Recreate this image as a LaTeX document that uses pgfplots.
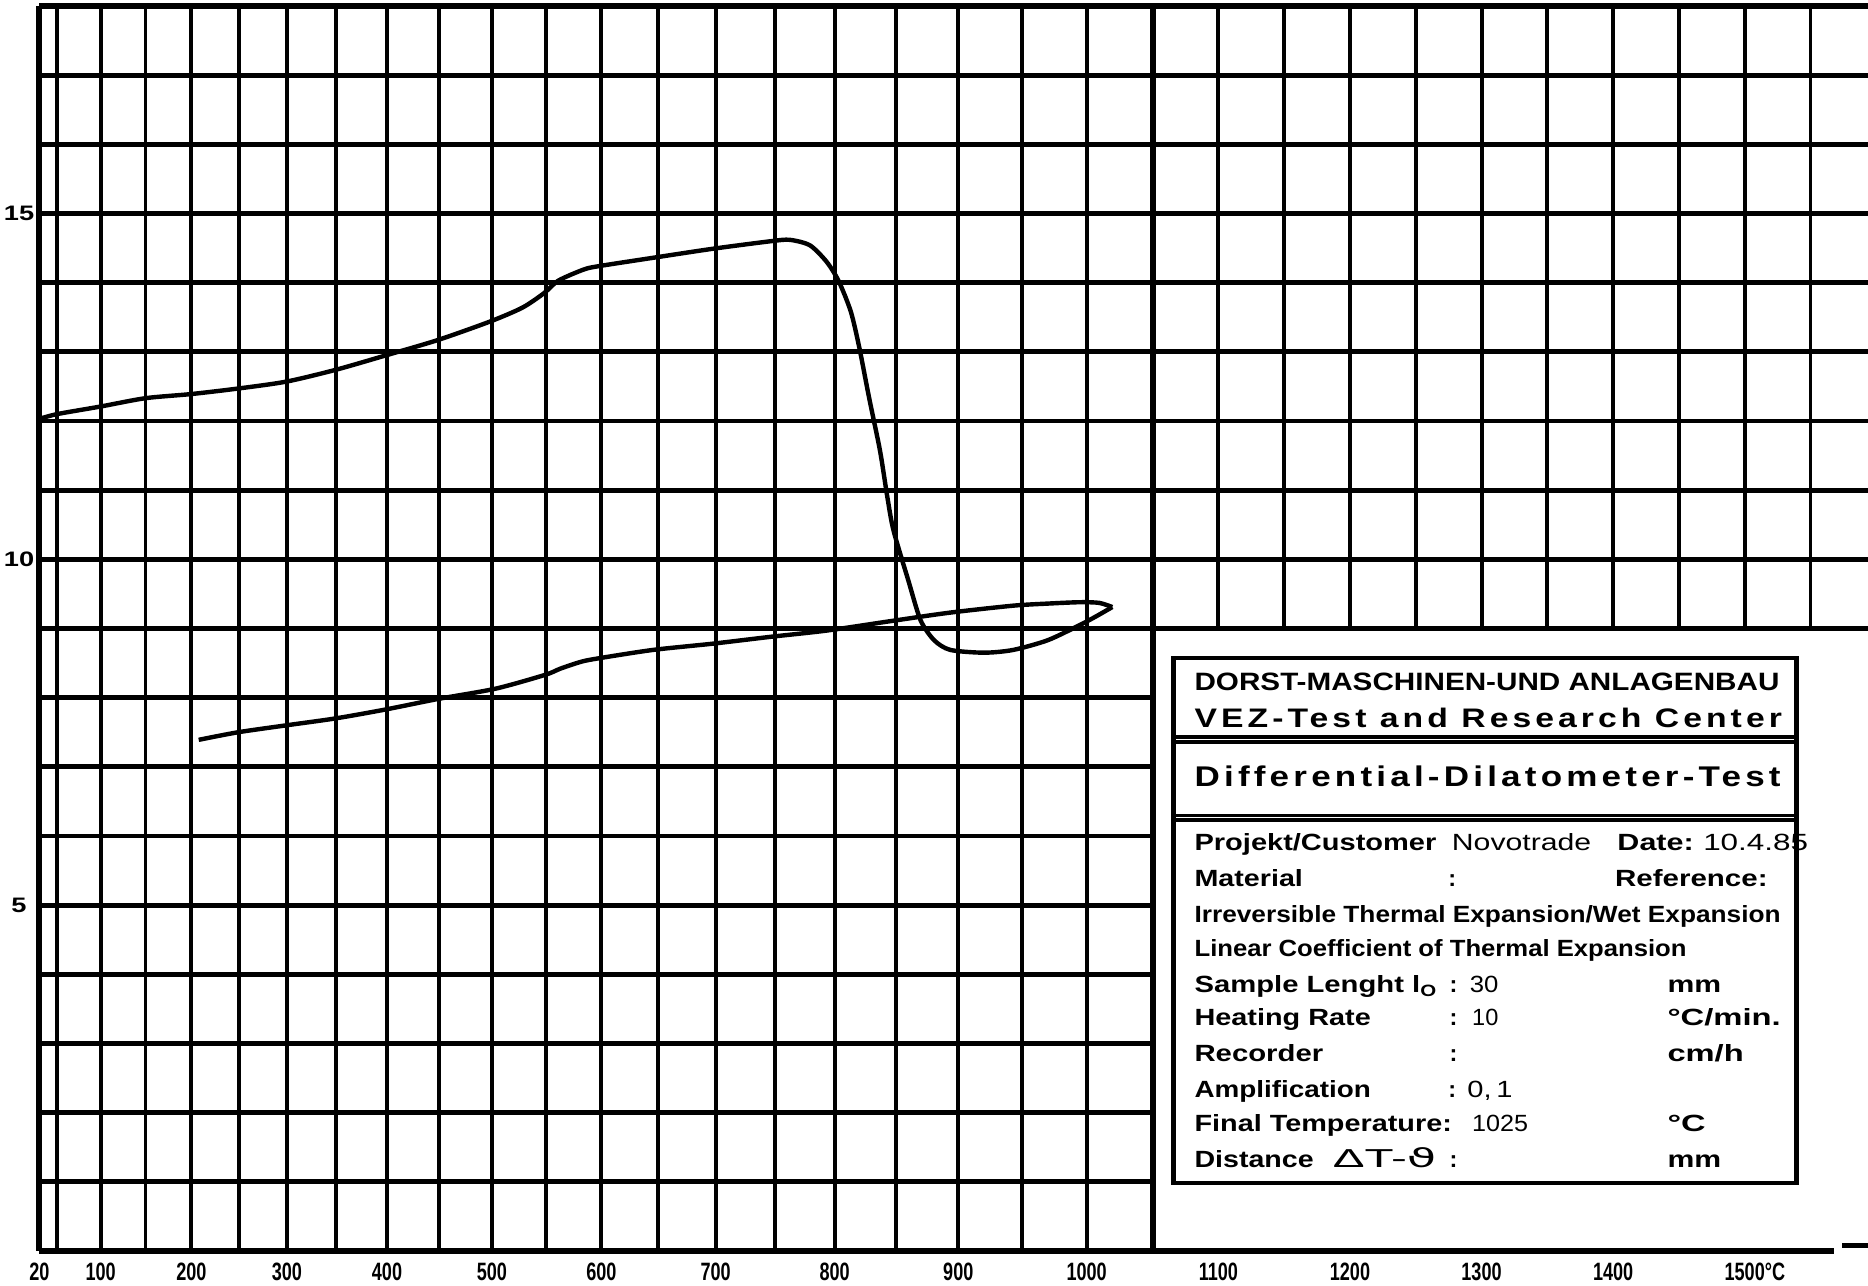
\documentclass[border=0pt]{standalone}
\usepackage{pgfplots}
\usepackage{pgfplotstable}
\pgfplotsset{compat=1.18}
\usepackage{graphicx}
\usepackage{fontspec}
\setmainfont{Liberation Sans}
\newfontfamily\dejavu{DejaVu Sans}
\newfontfamily\spaced[LetterSpace=12]{Liberation Sans}

\newcommand{\bt}[4]{\node[anchor=base west,inner sep=0pt] at (#1mm,#2mm) {\resizebox{#3mm}{\height}{#4}};}
\newcommand{\nt}[3]{\node[anchor=base west,inner sep=0pt] at (#1mm,#2mm) {#3};}
\newcommand{\body}{\fontsize{5.6pt}{6pt}\selectfont}
\newcommand{\xl}[1]{\scalebox{0.72}[1]{#1}}
\newcommand{\yl}[1]{\scalebox{1.3}[1]{#1}}

% heating run (temperature in degC, expansion reading)
\pgfplotstableread{
T y
20 12.03
50 12.10
100 12.21
150 12.33
200 12.39
250 12.47
300 12.57
350 12.74
400 12.95
450 13.17
500 13.44
530 13.64
550 13.85
563 14.03
586 14.19
600 14.24
648 14.36
700 14.49
750 14.60
766 14.62
783 14.54
797 14.30
807 14.02
817 13.58
824 13.06
832 12.34
841 11.57
847 10.90
852 10.42
864 9.70
874 9.12
885 8.83
898 8.69
925 8.65
948 8.69
975 8.83
1000 9.05
1013 9.18
1025 9.31
}\heating

% cooling run
\pgfplotstableread{
T y
1025 9.31
1015 9.37
1000 9.38
975 9.36
948 9.33
898 9.23
851 9.11
797 8.97
750 8.88
700 8.78
648 8.69
600 8.57
584 8.52
565 8.42
551 8.33
505 8.13
450 7.98
400 7.83
350 7.70
300 7.60
250 7.50
208 7.39
}\cooling

\begin{document}
\begin{tikzpicture}
\begin{axis}[
  scale only axis, width=153.53mm, height=104.49mm,
  at={(0,0)}, anchor=south west,
  xmin=20, xmax=1594, ymin=0, ymax=18,
  x coord trafo/.code={\pgfmathparse{48+0.725*(max(min(#1,1050),50)-50)+0.000192*(max(min(#1,1050),50)-50)*(max(min(#1,1050),50)-50)+0.5*min(#1-50,0)+1.109*max(#1-1050,0)}},
  axis line style={draw=none},
  major tick length=0pt, tick style={draw=none},
  xtick={20,100,200,300,400,500,600,700,800,900,1000,1100,1200,1300,1400,1500},
  xticklabels={\xl{20},\xl{100},\xl{200},\xl{300},\xl{400},\xl{500},\xl{600},\xl{700},\xl{800},\xl{900},\xl{1000},\xl{1100},\xl{1200},\xl{1300},\xl{1400},\xl{1500}\rlap{\xl{°C}}},
  ytick={5,10,15}, yticklabels={\yl{5},\yl{10},\yl{15}},
  xticklabel style={font=\bfseries\fontsize{6pt}{7pt}\selectfont, anchor=center, yshift=-1.8mm},
  yticklabel style={font=\bfseries\fontsize{5pt}{6pt}\selectfont, anchor=center, xshift=-1.7mm},
  clip=false,
]
% grid of the recorder paper
\pgfplotsinvokeforeach{50,100,...,1000}{\draw[line width=0.33mm] (axis cs:#1,0) -- (axis cs:#1,18);}
\draw[line width=0.5mm] (axis cs:20,0) -- (axis cs:20,18);
\draw[line width=0.5mm] (axis cs:1050,0) -- (axis cs:1050,18);
\pgfplotsinvokeforeach{1100,1150,...,1550}{\draw[line width=0.33mm] (axis cs:#1,9) -- (axis cs:#1,18);}
\pgfplotsinvokeforeach{1,...,8}{\draw[line width=0.4mm] (axis cs:20,#1) -- (axis cs:1050,#1);}
\pgfplotsinvokeforeach{9,...,17}{\draw[line width=0.4mm] (axis cs:20,#1) -- (axis cs:1594,#1);}
\draw[line width=0.45mm] (axis cs:20,18) -- (axis cs:1594,18);
\draw[line width=0.45mm] (axis cs:20,0) -- (axis cs:1568,0);
\draw[line width=0.4mm] (axis cs:1574,0.08) -- (axis cs:1594,0.08);
% curves
\addplot[black, line width=0.37mm, smooth, tension=0.45] table[x=T,y=y] {\heating};
\addplot[black, line width=0.37mm, smooth, tension=0.45] table[x=T,y=y] {\cooling};
\end{axis}

% info box
\draw[line width=0.35mm, fill=white] (95.2mm,5.7mm) rectangle (147.5mm,49.8mm);
\draw[line width=0.3mm] (95.2mm,43.15mm) -- (147.5mm,43.15mm);
\draw[line width=0.3mm] (95.2mm,42.7mm) -- (147.5mm,42.7mm);
\draw[line width=0.3mm] (95.2mm,36.55mm) -- (147.5mm,36.55mm);
\draw[line width=0.3mm] (95.2mm,36.15mm) -- (147.5mm,36.15mm);

\bt{96.9}{47.05}{49.1}{\fontsize{6pt}{7pt}\selectfont\bfseries DORST-MASCHINEN-UND ANLAGENBAU}
\bt{96.9}{43.9}{49.3}{\fontsize{6.4pt}{7pt}\selectfont\spaced\bfseries VEZ-Test and Research Center}
\bt{96.9}{38.95}{49.2}{\fontsize{6.8pt}{7pt}\selectfont\spaced\bfseries Differential-Dilatometer-Test}

\bt{96.9}{33.6}{20.3}{\body\bfseries Projekt/Customer}
\bt{118.5}{33.6}{11.7}{\body Novotrade}
\bt{132.4}{33.6}{6.4}{\body\bfseries Date:}
\bt{139.6}{33.6}{8.8}{\body 10.4.85}

\bt{96.9}{30.6}{9.1}{\body\bfseries Material}
\nt{118.2}{30.6}{\body\bfseries :}
\bt{132.2}{30.6}{12.8}{\body\bfseries Reference:}

\bt{96.9}{27.6}{49.2}{\body\bfseries Irreversible Thermal Expansion/Wet Expansion}
\bt{96.9}{24.7}{41.3}{\body\bfseries Linear Coefficient of Thermal Expansion}

\bt{96.9}{21.7}{20.5}{\body\bfseries Sample Lenght l\textsubscript{O}}
\nt{118.3}{21.7}{\body\bfseries :}
\bt{120.0}{21.7}{2.4}{\body 30}
\bt{136.6}{21.7}{4.5}{\body\bfseries mm}

\bt{96.9}{18.9}{14.8}{\body\bfseries Heating Rate}
\nt{118.3}{18.9}{\body\bfseries :}
\bt{120.2}{18.9}{2.2}{\body 10}
\bt{136.6}{18.9}{9.5}{\body\bfseries °C/min.}

\bt{96.9}{15.9}{10.8}{\body\bfseries Recorder}
\nt{118.3}{15.9}{\body\bfseries :}
\bt{136.6}{15.9}{6.4}{\body\bfseries cm/h}

\bt{96.9}{12.9}{14.8}{\body\bfseries Amplification}
\nt{118.2}{12.9}{\body\bfseries :}
\bt{119.8}{12.9}{3.8}{\body 0,\,1}

\bt{96.9}{10.0}{21.6}{\body\bfseries Final Temperature:}
\bt{120.2}{10.0}{4.7}{\body 1025}
\bt{136.6}{10.0}{3.2}{\body\bfseries °C}

\bt{96.9}{7.0}{10.0}{\body\bfseries Distance}
\bt{108.5}{7.0}{8.7}{\fontsize{6.2pt}{7pt}\selectfont ΔT-{\dejavu ϑ}}
\nt{118.3}{7.0}{\body\bfseries :}
\bt{136.6}{7.0}{4.5}{\body\bfseries mm}

\pgfresetboundingbox
\useasboundingbox (-3.3mm,-2.9mm) rectangle (153.5mm,105.0mm);
\end{tikzpicture}
\end{document}
